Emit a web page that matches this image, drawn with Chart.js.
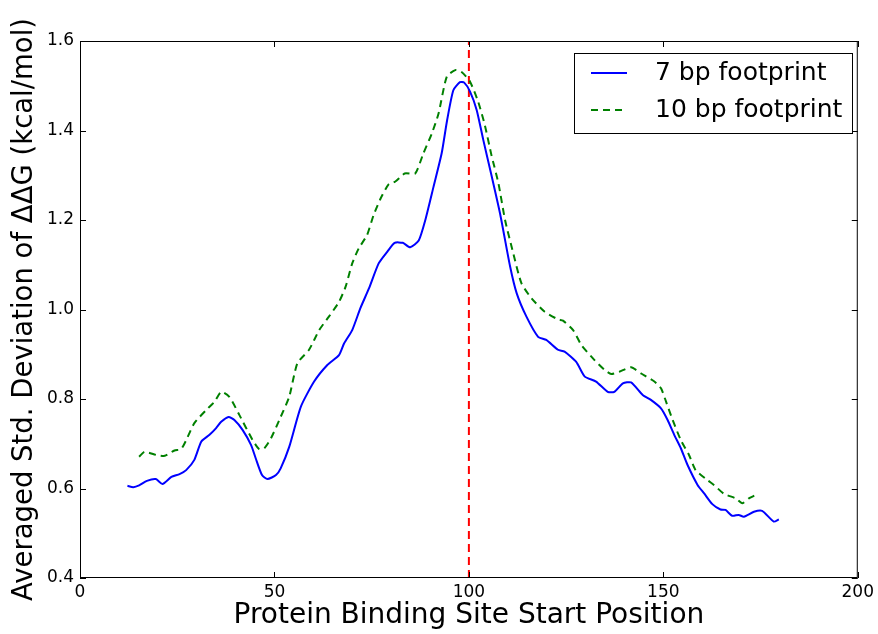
<!DOCTYPE html>
<html>
<head>
<meta charset="utf-8">
<script src="https://cdn.jsdelivr.net/npm/chart.js@4"></script>
<style>
  html, body { margin: 0; padding: 0; background: #fff; }
  #wrap { width: 878px; height: 634px; }
</style>
</head>
<body>
<div id="wrap"><canvas id="graphique"></canvas></div>
<script>
// 7 bp footprint (blue, solid)
const pos7 = [12.2, 13.7, 15.2, 17.2, 19.5, 21.2, 23.5, 25.6, 27.3, 29.4, 31.2, 33.3, 35.0, 36.3, 38.2, 39.7, 41.8, 44.0, 45.2, 46.8, 48.2, 50.4, 51.6, 53.8, 56.8, 60.2, 63.6, 66.6, 67.9, 70.0, 72.1, 74.3, 76.8, 79.0, 80.9, 83.0, 84.9, 87.1, 88.8, 90.9, 93.0, 94.4, 96.0, 97.7, 98.8, 100.3, 102.0, 103.7, 105.7, 108.0, 110.6, 112.3, 114.8, 117.8, 119.9, 122.9, 124.6, 127.6, 129.8, 132.7, 135.7, 137.4, 139.6, 141.7, 144.7, 146.8, 149.4, 151.1, 152.8, 154.5, 156.2, 158.8, 160.5, 162.6, 164.7, 166.0, 167.7, 169.4, 170.7, 173.3, 175.4, 178.4, 179.7];
const val7 = [0.606, 0.603, 0.607, 0.617, 0.621, 0.610, 0.626, 0.632, 0.641, 0.664, 0.705, 0.720, 0.735, 0.749, 0.760, 0.753, 0.731, 0.697, 0.667, 0.630, 0.621, 0.630, 0.645, 0.693, 0.783, 0.839, 0.876, 0.898, 0.924, 0.954, 1.003, 1.047, 1.103, 1.129, 1.149, 1.149, 1.139, 1.154, 1.200, 1.274, 1.349, 1.423, 1.490, 1.508, 1.507, 1.487, 1.446, 1.379, 1.304, 1.215, 1.096, 1.036, 0.984, 0.939, 0.932, 0.910, 0.906, 0.883, 0.850, 0.839, 0.816, 0.816, 0.835, 0.837, 0.809, 0.798, 0.779, 0.753, 0.720, 0.690, 0.653, 0.608, 0.589, 0.565, 0.553, 0.552, 0.539, 0.541, 0.537, 0.548, 0.550, 0.526, 0.531];

// 10 bp footprint (green, dashed)
const pos10 = [15.2, 16.6, 19.6, 21.8, 24.3, 26.0, 27.3, 29.4, 32.4, 34.6, 36.3, 38.4, 41.0, 44.4, 46.1, 47.4, 49.1, 51.6, 53.8, 55.9, 58.9, 61.5, 64.0, 66.6, 68.3, 70.0, 71.7, 73.8, 75.5, 77.3, 79.4, 81.1, 83.5, 86.2, 88.3, 90.5, 92.2, 94.3, 96.5, 98.2, 100.3, 102.4, 104.1, 105.8, 107.6, 109.3, 111.4, 113.5, 116.1, 119.5, 122.9, 124.2, 126.8, 128.9, 132.3, 134.9, 136.6, 138.7, 141.7, 144.3, 147.7, 149.4, 150.7, 152.4, 154.5, 156.6, 158.3, 161.3, 163.0, 165.6, 168.6, 170.3, 172.0, 173.4];
const val10 = [0.671, 0.682, 0.675, 0.673, 0.685, 0.688, 0.708, 0.746, 0.775, 0.794, 0.816, 0.805, 0.764, 0.708, 0.688, 0.690, 0.712, 0.760, 0.805, 0.880, 0.910, 0.954, 0.984, 1.017, 1.051, 1.103, 1.137, 1.166, 1.211, 1.248, 1.280, 1.286, 1.304, 1.304, 1.349, 1.394, 1.438, 1.520, 1.535, 1.530, 1.509, 1.464, 1.412, 1.345, 1.282, 1.200, 1.126, 1.059, 1.025, 0.995, 0.978, 0.975, 0.954, 0.921, 0.887, 0.865, 0.856, 0.861, 0.871, 0.857, 0.839, 0.824, 0.794, 0.753, 0.708, 0.675, 0.641, 0.619, 0.608, 0.588, 0.578, 0.567, 0.578, 0.584];

const seriesNames = ['7 bp footprint', '10 bp footprint'];
const markerPos = 100;
const xTicks = [0, 50, 100, 150, 200];
const yTicks = [0.4, 0.6, 0.8, 1.0, 1.2, 1.4, 1.6];

const toPoints = (xs, ys) => xs.map((x, i) => ({ x: x, y: ys[i] }));

// cadre, graduations intérieures et légende
const cadre = {
  id: 'cadre',
  afterDatasetsDraw(chart) {
    const { ctx, chartArea: a, scales: { x, y } } = chart;
    ctx.save();
    ctx.strokeStyle = '#000';
    ctx.lineWidth = 1;
    ctx.setLineDash([]);
    ctx.strokeRect(a.left + 0.5, a.top + 0.5, a.right - a.left - 1, a.bottom - a.top - 1);
    const len = 6;
    ctx.beginPath();
    xTicks.forEach(v => {
      const px = Math.round(x.getPixelForValue(v)) + 0.5;
      ctx.moveTo(px, a.bottom); ctx.lineTo(px, a.bottom - len);
      ctx.moveTo(px, a.top); ctx.lineTo(px, a.top + len);
    });
    yTicks.forEach(v => {
      const py = Math.round(y.getPixelForValue(v)) + 0.5;
      ctx.moveTo(a.left, py); ctx.lineTo(a.left + len, py);
      ctx.moveTo(a.right, py); ctx.lineTo(a.right - len, py);
    });
    ctx.stroke();

    // légende
    const bx = 574, by = 53, bw = 278, bh = 80;
    ctx.fillStyle = '#fff';
    ctx.fillRect(bx, by, bw, bh);
    ctx.strokeRect(bx + 0.5, by + 0.5, bw, bh);
    ctx.font = '25px "DejaVu Sans"';
    ctx.textBaseline = 'middle';
    ctx.fillStyle = '#000';
    [0, 1].forEach(i => {
      const ds = chart.data.datasets[i];
      const ly = by + 20 + i * 37;
      ctx.strokeStyle = ds.borderColor;
      ctx.lineWidth = 2;
      ctx.setLineDash(ds.borderDash || []);
      ctx.beginPath();
      ctx.moveTo(591, ly); ctx.lineTo(627, ly);
      ctx.stroke();
      ctx.fillText(seriesNames[i], 655, ly);
    });
    ctx.restore();
  }
};

const ctx = document.getElementById('graphique').getContext('2d');
new Chart(ctx, {
  type: 'line',
  data: {
    datasets: [
      {
        label: seriesNames[0],
        data: toPoints(pos7, val7),
        borderColor: '#0000ff',
        borderWidth: 2,
        pointRadius: 0,
        tension: 0.2,
        fill: false
      },
      {
        label: seriesNames[1],
        data: toPoints(pos10, val10),
        borderColor: '#008000',
        borderWidth: 2,
        borderDash: [7, 5],
        pointRadius: 0,
        tension: 0.2,
        fill: false
      },
      {
        label: 'marker',
        data: [{ x: markerPos, y: 0.4 }, { x: markerPos, y: 1.6 }],
        borderColor: '#ff0000',
        borderWidth: 2,
        borderDash: [8, 5],
        pointRadius: 0,
        fill: false
      }
    ]
  },
  options: {
    responsive: true,
    maintainAspectRatio: false,
    animation: false,
    layout: { padding: { top: 41, right: 17, left: 0, bottom: 0 } },
    scales: {
      x: {
        type: 'linear',
        min: 0,
        max: 200,
        afterFit: s => { s.height = 56; },
        afterBuildTicks: s => { s.ticks = xTicks.map(v => ({ value: v })); },
        grid: { display: false, drawTicks: false },
        border: { display: false },
        ticks: {
          color: '#000',
          padding: 4,
          font: { family: 'DejaVu Sans', size: 17 },
          maxRotation: 0
        },
        title: {
          display: true,
          text: 'Protein Binding Site Start Position',
          color: '#000',
          font: { family: 'DejaVu Sans', size: 28 },
          padding: { top: 0, bottom: 1 }
        }
      },
      y: {
        type: 'linear',
        min: 0.4,
        max: 1.6,
        afterFit: s => { s.width = 80; },
        afterBuildTicks: s => { s.ticks = yTicks.map(v => ({ value: v })); },
        grid: { display: false, drawTicks: false },
        border: { display: false },
        ticks: {
          color: '#000',
          padding: 6,
          font: { family: 'DejaVu Sans', size: 17 },
          callback: v => v.toFixed(1)
        },
        title: {
          display: true,
          text: 'Averaged Std. Deviation of ΔΔG (kcal/mol)',
          color: '#000',
          font: { family: 'DejaVu Sans', size: 27.5 },
          padding: { top: 8, bottom: 0 }
        }
      }
    },
    plugins: {
      legend: { display: false },
      tooltip: { enabled: false }
    }
  },
  plugins: [cadre]
});
</script>
</body>
</html>
